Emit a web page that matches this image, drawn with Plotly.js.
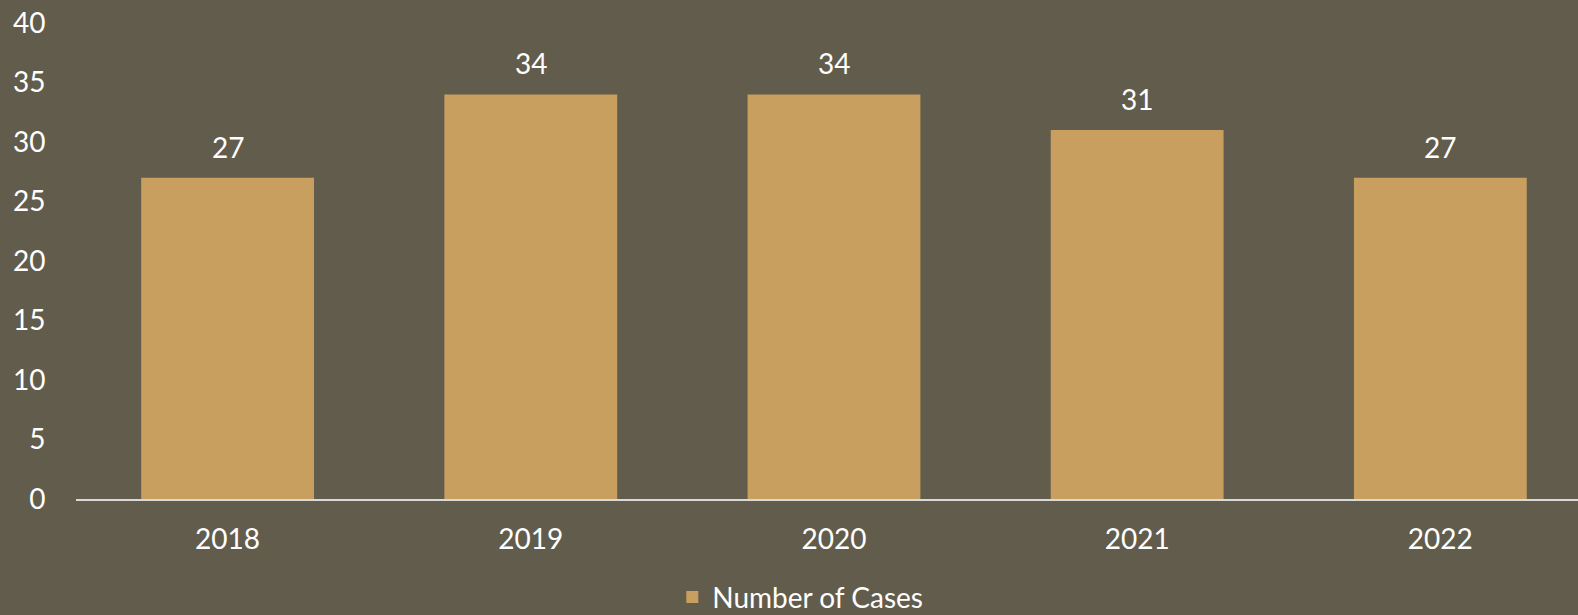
<!DOCTYPE html>
<html>
<head>
<meta charset="utf-8">
<script src="https://cdn.plot.ly/plotly-3.0.1.min.js"></script>
<style>html,body{margin:0;padding:0;background:#625C4D;}#chart{width:1578px;height:615px;}</style>
</head>
<body>
<div id="chart"></div>
<script>
const years = ["2018", "2019", "2020", "2021", "2022"];
const cases = [27, 34, 34, 31, 27];
const seriesName = "Number of Cases";
const yTicks = [0, 5, 10, 15, 20, 25, 30, 35, 40];

const FONT = "Lato, 'Open Sans', sans-serif";
const BG = "#625C4D";
const BAR = "#C89F5E";

const trace = {
  type: "bar",
  x: years,
  y: cases,
  name: seriesName,
  marker: {color: BAR},
  showlegend: true,
  hoverinfo: "x+y"
};

const annotations = years.map((yr, i) => ({
  x: i, y: cases[i], xref: "x", yref: "y",
  text: String(cases[i]), showarrow: false,
  yanchor: "bottom", yshift: 12,
  font: {family: FONT, size: 28, color: "#FFFFFF"}
}));

const layout = {
  width: 1578, height: 615,
  paper_bgcolor: BG, plot_bgcolor: BG,
  margin: {l: 76, r: 0, t: 23, b: 116, autoexpand: false},
  bargap: 0.43,
  font: {family: FONT, color: "#FFFFFF"},
  xaxis: {
    type: "category",
    range: [-0.5, 4.454],
    showgrid: false, zeroline: false,
    showline: true, linecolor: "#D9D9D9", linewidth: 2,
    ticks: "outside", ticklen: 14, tickcolor: "rgba(0,0,0,0)",
    tickfont: {family: FONT, size: 28, color: "#FFFFFF"},
    automargin: false,
    fixedrange: true
  },
  yaxis: {
    range: [0, 40],
    tickvals: yTicks,
    ticktext: yTicks.map(String),
    showgrid: false, zeroline: false, showline: false,
    ticks: "outside", ticklen: 24, tickcolor: "rgba(0,0,0,0)",
    tickfont: {family: FONT, size: 28, color: "#FFFFFF"},
    automargin: false,
    fixedrange: true
  },
  showlegend: true,
  legend: {
    orientation: "h",
    x: 0.397, xanchor: "left",
    y: -0.2063, yanchor: "middle",
    font: {family: FONT, size: 28, color: "#FFFFFF"},
    bgcolor: "rgba(0,0,0,0)"
  },
  annotations: annotations
};

Plotly.newPlot("chart", [trace], layout, {displayModeBar: false, staticPlot: true});
</script>
</body>
</html>
